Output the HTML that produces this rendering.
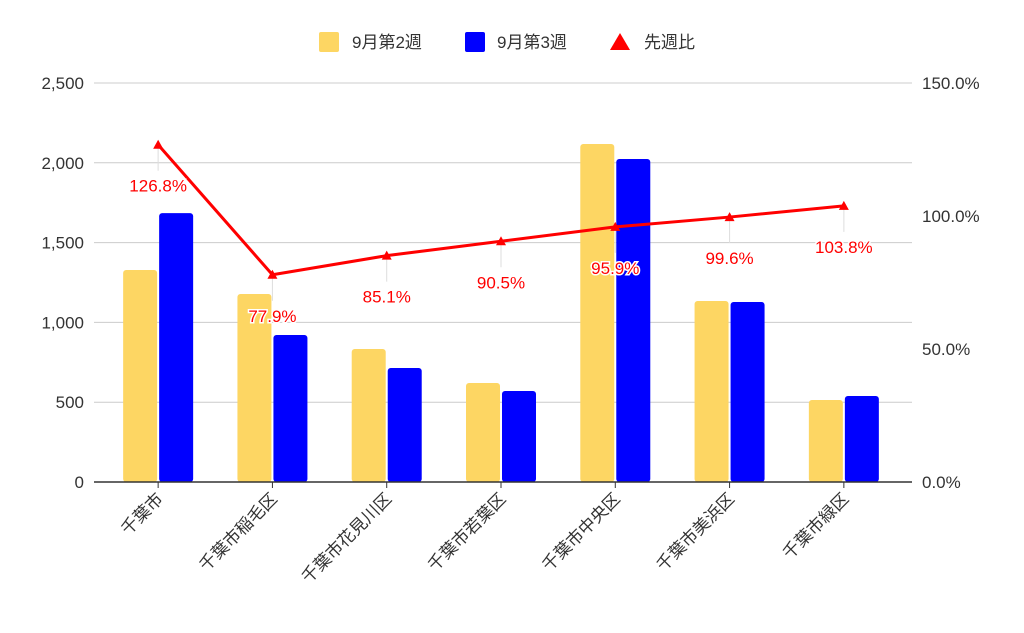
<!DOCTYPE html>
<html><head><meta charset="utf-8"><style>
body{margin:0;background:#fff;}
svg{display:block;font-family:"Liberation Sans","Noto Sans CJK JP",sans-serif;}
</style></head><body>
<svg id="chart" width="1024" height="633" viewBox="0 0 1024 633">
<g>
 <g><rect x="319" y="32" width="20" height="20" rx="2" fill="#fdd663"/><text x="352" y="48" font-size="17" fill="#333">9月第2週</text></g>
 <g><rect x="465" y="32" width="20" height="20" rx="2" fill="#0000ff"/><text x="497" y="48" font-size="17" fill="#333">9月第3週</text></g>
 <g><polygon points="620,33 630,50 610,50" fill="#ff0000"/><text x="644" y="48" font-size="17" fill="#333">先週比</text></g>
</g>
<g id="grid"></g>
<g id="bars"></g>
<g id="line"></g>
<g id="axes"></g>
</svg>
<script>
const categories=["千葉市","千葉市稲毛区","千葉市花見川区","千葉市若葉区","千葉市中央区","千葉市美浜区","千葉市緑区"];
const week2=[1328,1178,833,620,2118,1134,514];
const week3=[1685,921,714,570,2024,1128,539];
const ratio=[126.8,77.9,85.1,90.5,95.9,99.6,103.8];
const leftTicks=[0,500,1000,1500,2000,2500];
const rightTicks=[0,50,100,150];
const NS="http://www.w3.org/2000/svg";
const X0=112,X1=912,Y0=482,Y1=83;
const yL=v=>Y0-(v/2500)*(Y0-Y1);
const yR=v=>Y0-(v/150)*(Y0-Y1);
const step=(X1-X0)/categories.length;
const xC=i=>X0+step*(i+0.5)-11;
function mk(tag,attrs,parent,txt){const e=document.createElementNS(NS,tag);for(const k in attrs)e.setAttribute(k,attrs[k]);if(txt!==undefined)e.textContent=txt;parent.appendChild(e);return e;}
const grid=document.getElementById('grid'),bars=document.getElementById('bars'),line=document.getElementById('line'),axes=document.getElementById('axes');
leftTicks.forEach(t=>{
 if(t>0){const g=mk('line',{x1:94,x2:912,y1:yL(t),y2:yL(t),stroke:'#ccc','stroke-width':1},grid);
 
 }
 const l=mk('text',{x:84,y:yL(t)+6,'font-size':17,fill:'#333','text-anchor':'end'},axes,t.toLocaleString('en-US'));
 
 
});
rightTicks.forEach(t=>{
 const l=mk('text',{x:922,y:yR(t)+6,'font-size':17,fill:'#333'},axes,t.toFixed(1)+'%');
 
 
});
const bw=34;
categories.forEach((c,i)=>{
 const cx=xC(i);
 const b1=mk('rect',{x:cx-bw-1,y:yL(week2[i]),width:bw,height:Y0-yL(week2[i]),rx:3,fill:'#fdd663'},bars);
 
 
 const b2=mk('rect',{x:cx+1,y:yL(week3[i]),width:bw,height:Y0-yL(week3[i]),rx:3,fill:'#0000ff'},bars);
 
 
 const tk=mk('line',{x1:cx,x2:cx,y1:Y0,y2:Y0+6,stroke:'#333'},axes);
 
 
 const lb=mk('text',{x:0,y:0,'font-size':17,fill:'#333','text-anchor':'end',transform:`translate(${cx+6},${Y0+18}) rotate(-45)`},axes,c);
 
 
});
const base=mk('line',{x1:94,x2:912,y1:Y0,y2:Y0,stroke:'#333','stroke-width':1.5},axes);


const pts=ratio.map((r,i)=>xC(i)+','+yR(r)).join(' ');
ratio.forEach((r,i)=>{
 const ld=mk('line',{x1:xC(i),x2:xC(i),y1:yR(r),y2:yR(r)+26,stroke:'#ddd'},line);
 
 
});
const pl=mk('polyline',{points:pts,fill:'none',stroke:'#ff0000','stroke-width':3,'stroke-linejoin':'round'},line);


ratio.forEach((r,i)=>{
 const x=xC(i),y=yR(r);
 const m=mk('polygon',{points:`${x},${y-5} ${x+5},${y+4} ${x-5},${y+4}`,fill:'#ff0000'},line);
 
 
 const t=mk('text',{x:x,y:y+47,'font-size':17,fill:'#ff0000','text-anchor':'middle',stroke:'#fff','stroke-width':3,'paint-order':'stroke'},line,r.toFixed(1)+'%');
 
 
});
</script>
</body></html>
